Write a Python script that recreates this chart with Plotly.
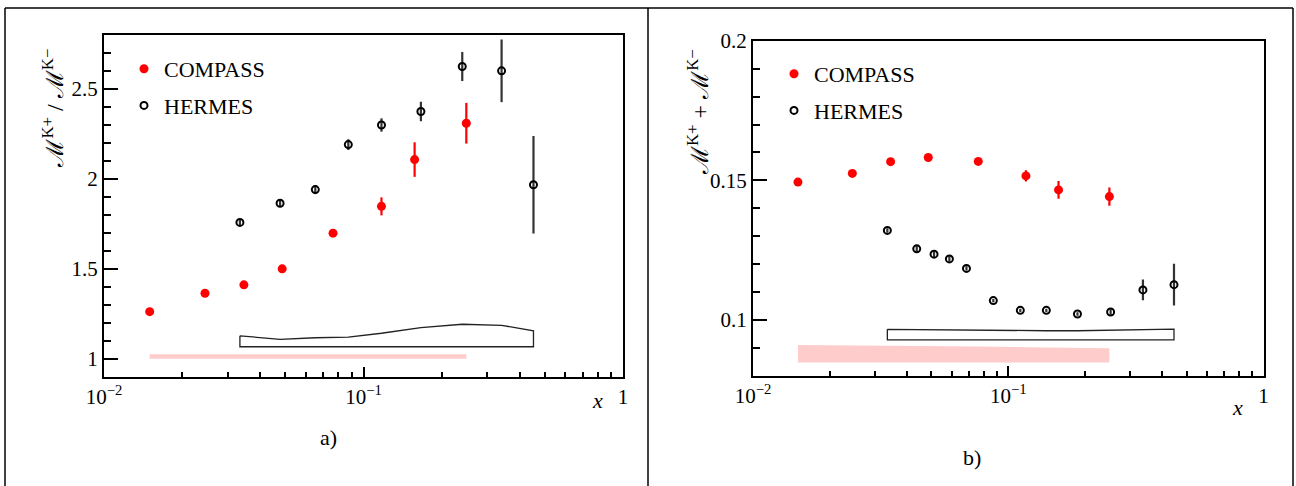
import plotly.graph_objects as go

W, H = 1296, 486

# ---------------- data ----------------
compass_x = [0.0150, 0.0245, 0.0346, 0.0486, 0.0763, 0.1173, 0.1574, 0.249]
compass_ratio = [1.263, 1.365, 1.412, 1.501, 1.699, 1.848, 2.108, 2.310]
compass_ratio_err = [0.012, 0.012, 0.015, 0.018, 0.020, 0.050, 0.096, 0.113]
compass_ratio_sys_top = [1.026, 1.026, 1.026, 1.026, 1.026, 1.026, 1.026, 1.026]
compass_ratio_sys_base = 1.002

hermes_x_a = [0.0334, 0.0477, 0.0652, 0.0874, 0.1173, 0.1664, 0.2402, 0.3405, 0.4519]
hermes_ratio = [1.759, 1.865, 1.941, 2.191, 2.300, 2.375, 2.625, 2.601, 1.968]
hermes_ratio_err = [0.020, 0.020, 0.025, 0.030, 0.037, 0.054, 0.081, 0.174, 0.271]
hermes_ratio_sys_top = [1.129, 1.109, 1.118, 1.122, 1.143, 1.174, 1.193, 1.187, 1.157]
hermes_ratio_sys_base = 1.068

compass_sum = [0.1494, 0.1525, 0.1567, 0.1582, 0.1568, 0.1516, 0.1466, 0.1442]
compass_sum_err = [0.0008, 0.0008, 0.0008, 0.0008, 0.0010, 0.0020, 0.0032, 0.0033]
compass_sum_sys_top = [0.0911, 0.0910, 0.0909, 0.0908, 0.0906, 0.0903, 0.0901, 0.0899]
compass_sum_sys_base = 0.0848

hermes_x_b = [0.0336, 0.0438, 0.0512, 0.0588, 0.0686, 0.0874, 0.1115, 0.141, 0.1867, 0.2518, 0.337, 0.446]
hermes_sum = [0.1321, 0.1255, 0.1236, 0.1219, 0.1185, 0.1070, 0.1035, 0.1035, 0.1022, 0.1029, 0.1108, 0.1127]
hermes_sum_err = [0.0008, 0.0010, 0.0010, 0.0010, 0.0008, 0.0006, 0.0006, 0.0006, 0.0006, 0.0010, 0.0037, 0.0075]
hermes_sum_sys_top = [0.0967, 0.0966, 0.0965, 0.0964, 0.0963, 0.0963, 0.0963, 0.0962, 0.0962, 0.0964, 0.0966, 0.0968]
hermes_sum_sys_base = 0.0929

x_major = [0.01, 0.1, 1]
x_major_text = ["10<sup>−2</sup>", "10<sup>−1</sup>", "1"]
x_minor = [m * d for d in (0.01, 0.1) for m in range(2, 10)]

ya_major = [1, 1.5, 2, 2.5]
ya_major_text = ["1", "1.5", "2", "2.5"]
ya_minor = [round(0.9 + 0.1 * i, 2) for i in range(20)]

yb_major = [0.1, 0.15, 0.2]
yb_major_text = ["0.1", "0.15", "0.2"]
yb_minor = [round(0.08 + 0.01 * i, 3) for i in range(13)]

FONT = "Liberation Serif, Times New Roman, serif"
RED = "#ff0000"
PINK = "#ffcccc"


def px(x):
    return x / W


def py(y):
    return 1 - y / H


fig = go.Figure()


def band(xs, top, base, xa, ya, fill, line):
    xs = list(xs)
    fig.add_trace(go.Scatter(
        x=xs + xs[::-1] + [xs[0]],
        y=list(top) + [base] * len(xs) + [top[0]],
        xaxis=xa, yaxis=ya, mode="lines", fill="toself",
        fillcolor=fill, line=dict(color=line, width=1.3 if line != fill else 0),
        showlegend=False, hoverinfo="skip"))


# panel a bands
band(compass_x, compass_ratio_sys_top, compass_ratio_sys_base, "x", "y", PINK, PINK)
band(hermes_x_a, hermes_ratio_sys_top, hermes_ratio_sys_base, "x", "y", "white", "#222222")
# panel b bands
band(compass_x, compass_sum_sys_top, compass_sum_sys_base, "x2", "y2", PINK, PINK)
band(hermes_x_b, hermes_sum_sys_top, hermes_sum_sys_base, "x2", "y2", "white", "#222222")


def points(xs, ys, errs, xa, ya, name, legend, filled):
    if filled:
        marker = dict(symbol="circle", size=9, color=RED)
        ecolor = RED
    else:
        marker = dict(symbol="circle-open", size=7, color="black", line=dict(width=2, color="black"))
        ecolor = "#333333"
    fig.add_trace(go.Scatter(
        x=xs, y=ys, xaxis=xa, yaxis=ya, mode="markers", name=name,
        marker=marker, legend=legend, legendgroup=name + legend,
        error_y=dict(type="data", array=errs, visible=True, width=0,
                     thickness=2.2, color=ecolor)))


points(compass_x, compass_ratio, compass_ratio_err, "x", "y", "COMPASS", "legend", True)
points(hermes_x_a, hermes_ratio, hermes_ratio_err, "x", "y", "HERMES", "legend", False)
points(compass_x, compass_sum, compass_sum_err, "x2", "y2", "COMPASS", "legend2", True)
points(hermes_x_b, hermes_sum, hermes_sum_err, "x2", "y2", "HERMES", "legend2", False)


def xaxis(domain, anchor):
    return dict(
        type="log", range=[-2, 0], domain=domain, anchor=anchor,
        showline=True, linecolor="black", linewidth=2, mirror=True,
        ticks="inside", ticklen=10, tickwidth=1.5, tickcolor="black",
        tickvals=x_major, ticktext=x_major_text,
        minor=dict(tickvals=x_minor, ticks="inside", ticklen=5, tickwidth=1.5, tickcolor="black"),
        showgrid=False, zeroline=False,
        tickfont=dict(family=FONT, size=21, color="black"))


def yaxis(domain, anchor, rng, vals, text, minor):
    return dict(
        range=rng, domain=domain, anchor=anchor,
        showline=True, linecolor="black", linewidth=2, mirror=True,
        ticks="inside", ticklen=14, tickwidth=2, tickcolor="black",
        tickvals=vals, ticktext=text,
        minor=dict(tickvals=minor, ticks="inside", ticklen=7, tickwidth=1.5, tickcolor="black"),
        showgrid=False, zeroline=False,
        tickfont=dict(family=FONT, size=21, color="black"))


legend_common = dict(
    font=dict(family=FONT, size=22, color="black"),
    bgcolor="rgba(0,0,0,0)", borderwidth=0, traceorder="grouped",
    tracegroupgap=5, xanchor="left", yanchor="top", itemclick=False)

fig.update_layout(
    width=W, height=H, autosize=False,
    margin=dict(l=0, r=0, t=0, b=0, autoexpand=False),
    paper_bgcolor="white", plot_bgcolor="white",
    xaxis=xaxis([px(104), px(623)], "y"),
    yaxis=yaxis([py(377), py(35)], "x", [0.9, 2.8], ya_major, ya_major_text, ya_minor),
    xaxis2=xaxis([px(753), px(1263.5)], "y2"),
    yaxis2=yaxis([py(376), py(40.7)], "x2", [0.08, 0.2], yb_major, yb_major_text, yb_minor),
    legend=dict(x=px(124), y=py(48), **legend_common),
    legend2=dict(x=px(774), y=py(53), **legend_common),
)

# outer table borders
for x0, y0, x1, y1 in [(5, 8, 1293, 8), (5, 8, 5, 486), (648, 8, 648, 486), (1293, 8, 1293, 486)]:
    fig.add_shape(type="line", xref="paper", yref="paper",
                  x0=px(x0), y0=py(y0), x1=px(x1), y1=py(y1),
                  line=dict(color="black", width=1.5))

texts = [
    ("ℳ<sup>K+</sup> / ℳ<sup>K−</sup>", 52, 47, -90, "center", "top", 24),
    ("ℳ<sup>K+</sup> + ℳ<sup>K−</sup>", 698, 47, -90, "center", "top", 24),
    ("<i>x</i>", 597, 400, 0, "center", "middle", 22),
    ("<i>x</i>", 1237, 407, 0, "center", "middle", 22),
    ("a)", 328, 437, 0, "center", "middle", 22),
    ("b)", 972, 457, 0, "center", "middle", 22),
]
for t, x, y, ang, xa, ya, sz in texts:
    fig.add_annotation(text=t, x=px(x), y=py(y), xref="paper", yref="paper",
                       textangle=ang, xanchor=xa, yanchor=ya, showarrow=False,
                       font=dict(family=FONT, size=sz, color="black"))

fig.write_html(
    "out.html",
    config={"displayModeBar": False},
    post_script="document.body.style.margin='0';document.body.style.overflow='hidden';",
)
